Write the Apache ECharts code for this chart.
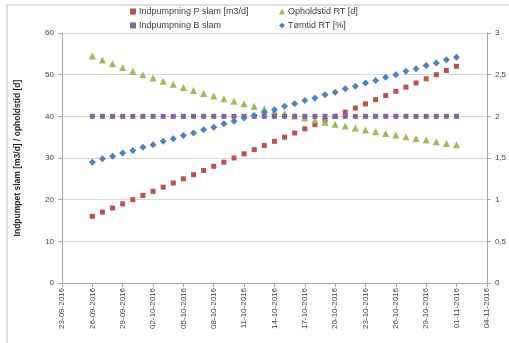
<!DOCTYPE html>
<html>
<head>
<meta charset="utf-8">
<script src="https://cdn.jsdelivr.net/npm/echarts@6/dist/echarts.min.js"></script>
<style>
  html, body { margin: 0; padding: 0; background: #fff; }
  #chart { width: 509px; height: 343px; }
</style>
</head>
<body>
<div id="chart"></div>
<script>
// Daily measurement dates
const dates = [
  '26-09-2016','27-09-2016','28-09-2016','29-09-2016','30-09-2016',
  '01-10-2016','02-10-2016','03-10-2016','04-10-2016','05-10-2016','06-10-2016','07-10-2016',
  '08-10-2016','09-10-2016','10-10-2016','11-10-2016','12-10-2016','13-10-2016','14-10-2016',
  '15-10-2016','16-10-2016','17-10-2016','18-10-2016','19-10-2016','20-10-2016','21-10-2016',
  '22-10-2016','23-10-2016','24-10-2016','25-10-2016','26-10-2016','27-10-2016','28-10-2016',
  '29-10-2016','30-10-2016','31-10-2016','01-11-2016'
];

// Indpumpning P slam [m3/d]
const pSlam = [16,17,18,19,20,21,22,23,24,25,26,27,28,29,30,31,32,33,34,35,36,37,38,39,40,
  41,42,43,44,45,46,47,48,49,50,51,52];

// Opholdstid RT [d]
const opholdstid = [54.5,53.5,52.6,51.7,50.8,50.0,49.2,48.4,47.7,46.9,46.2,45.5,44.9,44.2,
  43.6,43.0,42.4,41.8,41.2,40.7,40.1,39.6,39.1,38.6,38.1,37.7,37.2,36.7,36.3,35.9,35.5,35.1,
  34.7,34.3,33.9,33.5,33.2];

// Indpumpning B slam [m3/d]
const bSlam = [40,40,40,40,40,40,40,40,40,40,40,40,40,40,40,40,40,40,40,40,40,40,40,40,40,
  40,40,40,40,40,40,40,40,40,40,40,40];

// Tømtid RT [%] (secondary axis)
const toemtid = [1.45,1.49,1.52,1.56,1.59,1.63,1.66,1.70,1.73,1.77,1.80,1.84,1.87,1.91,1.94,
  1.98,2.01,2.05,2.08,2.12,2.15,2.19,2.22,2.26,2.29,2.33,2.36,2.40,2.43,2.47,2.50,2.54,2.57,
  2.61,2.64,2.68,2.71];

// X axis tick labels (every third day from 23-09-2016)
const xTicks = ['23-09-2016','26-09-2016','29-09-2016','02-10-2016','05-10-2016','08-10-2016',
  '11-10-2016','14-10-2016','17-10-2016','20-10-2016','23-10-2016','26-10-2016','29-10-2016',
  '01-11-2016','04-11-2016'];
const leftTicks = ['0','10','20','30','40','50','60'];
const rightTicks = ['0','0,5','1','1,5','2','2,5','3'];

const DAY = 86400000;
const base = Date.UTC(2016, 8, 23);
function dayOffset(s) {
  const p = s.split('-');
  return Math.round((Date.UTC(+p[2], +p[1] - 1, +p[0]) - base) / DAY);
}
function pairs(values) {
  return values.map((v, i) => [dayOffset(dates[i]), v]);
}

const FONT = 'Liberation Sans, Arial, sans-serif';
const axisGray = '#a6a6a6';
const gridGray = '#d9d9d9';
const labelColor = '#404040';

const chart = echarts.init(document.getElementById('chart'), null, { renderer: 'canvas' });
chart.setOption({
  backgroundColor: '#ffffff',
  animation: false,
  textStyle: { fontFamily: FONT },
  graphic: [{
    type: 'rect',
    shape: { x: 7, y: 5, width: 600, height: 400 },
    style: { fill: 'none', stroke: '#bfbfbf', lineWidth: 1 },
    silent: true
  }],
  legend: [
    {
      data: ['Indpumpning P slam [m3/d]', 'Indpumpning B slam'],
      orient: 'vertical', left: 125, top: 2, itemGap: 5,
      itemWidth: 6, itemHeight: 6,
      textStyle: { fontSize: 9, color: labelColor, fontFamily: FONT, padding: [0, 0, 0, -2] }
    },
    {
      data: ['Opholdstid RT [d]', 'Tømtid RT [%]'],
      orient: 'vertical', left: 274, top: 2, itemGap: 5,
      itemWidth: 6, itemHeight: 6,
      textStyle: { fontSize: 9, color: labelColor, fontFamily: FONT, padding: [0, 0, 0, -2] }
    }
  ],
  grid: { left: 62, right: 19, top: 33, bottom: 60, containLabel: false },
  xAxis: {
    type: 'value', min: 0, max: 42, interval: 3,
    axisLine: { show: true, lineStyle: { color: axisGray } },
    axisTick: { show: true, length: 4, lineStyle: { color: axisGray } },
    splitLine: { show: false },
    axisLabel: {
      rotate: 90, fontSize: 8, color: labelColor, margin: 5,
      formatter: v => xTicks[Math.round(v / 3)]
    }
  },
  yAxis: [
    {
      type: 'value', min: 0, max: 60, interval: 10,
      name: 'Indpumpet slam [m3/d] / opholdstid [d]',
      nameLocation: 'middle', nameGap: 40,
      nameTextStyle: { fontSize: 8.5, fontWeight: 'bold', color: '#262626' },
      axisLine: { show: true, lineStyle: { color: axisGray } },
      axisTick: { show: true, length: 4, lineStyle: { color: axisGray } },
      splitLine: { show: true, lineStyle: { color: gridGray } },
      axisLabel: { fontSize: 8, color: labelColor, margin: 8,
        formatter: v => leftTicks[Math.round(v / 10)] }
    },
    {
      type: 'value', min: 0, max: 3, interval: 0.5,
      axisLine: { show: true, lineStyle: { color: axisGray } },
      axisTick: { show: true, length: 4, lineStyle: { color: axisGray } },
      splitLine: { show: false },
      axisLabel: { fontSize: 8, color: labelColor, margin: 8,
        formatter: v => rightTicks[Math.round(v / 0.5)] }
    }
  ],
  series: [
    {
      name: 'Indpumpning P slam [m3/d]', type: 'scatter', yAxisIndex: 0,
      symbol: 'rect', symbolSize: 5,
      itemStyle: { color: '#c0504d', opacity: 1 },
      data: pairs(pSlam)
    },
    {
      name: 'Opholdstid RT [d]', type: 'scatter', yAxisIndex: 0,
      symbol: 'triangle', symbolSize: 7,
      itemStyle: { color: '#9bbb59', opacity: 1 },
      data: pairs(opholdstid)
    },
    {
      name: 'Indpumpning B slam', type: 'scatter', yAxisIndex: 0,
      symbol: 'rect', symbolSize: 5,
      itemStyle: { color: '#8064a2', opacity: 1 },
      data: pairs(bSlam)
    },
    {
      name: 'Tømtid RT [%]', type: 'scatter', yAxisIndex: 1,
      symbol: 'diamond', symbolSize: 7,
      itemStyle: { color: '#4f81bd', opacity: 1 },
      data: pairs(toemtid)
    }
  ]
});
</script>
</body>
</html>
